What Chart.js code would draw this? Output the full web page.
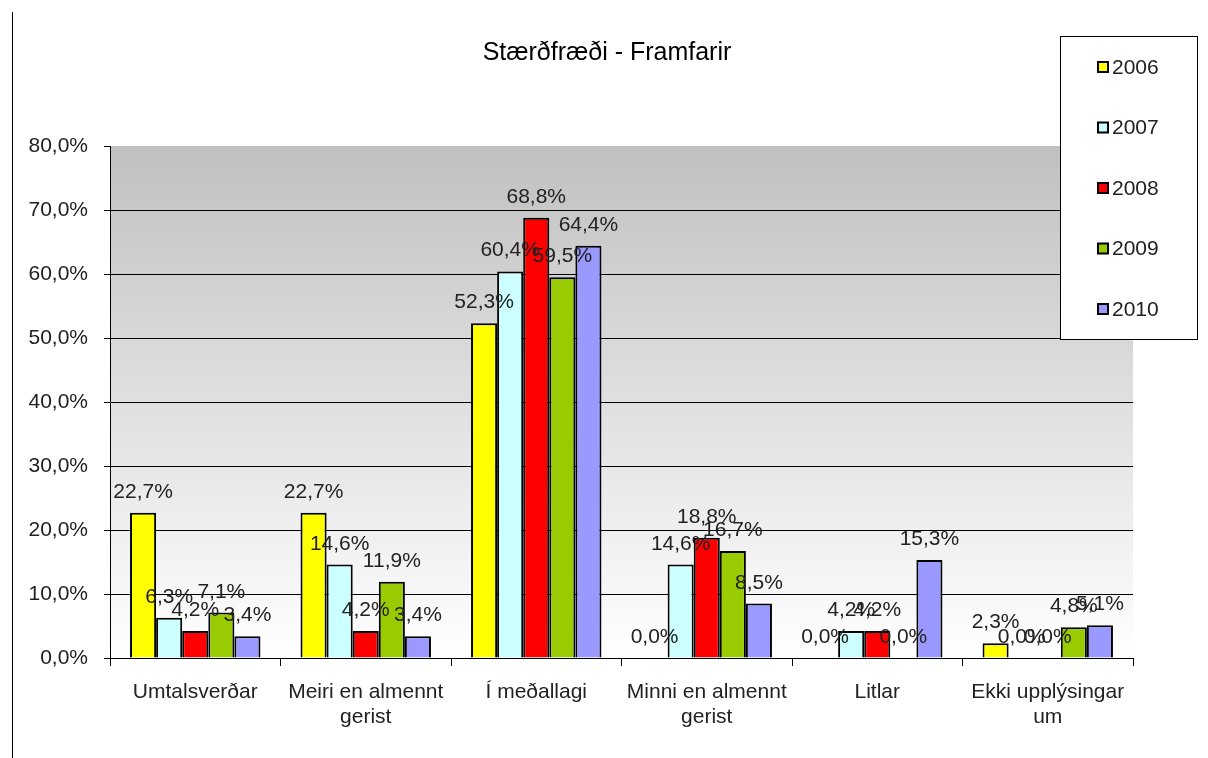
<!DOCTYPE html>
<html>
<head>
<meta charset="utf-8">
<script src="https://cdn.jsdelivr.net/npm/chart.js@4.4.0/dist/chart.umd.min.js"></script>
<style>
  html, body { margin: 0; padding: 0; background: #fff; }
  canvas { display: block; }
</style>
</head>
<body>
<canvas id="chart" width="1208" height="758"></canvas>
<script>
const categories = [
  'Umtalsverðar',
  ['Meiri en almennt', 'gerist'],
  'Í meðallagi',
  ['Minni en almennt', 'gerist'],
  'Litlar',
  ['Ekki upplýsingar', 'um']
]
const years = ['2006', '2007', '2008', '2009', '2010']
const values2006 = [22.7, 22.7, 52.3, 0.0, 0.0, 2.3]
const values2007 = [6.3, 14.6, 60.4, 14.6, 4.2, 0.0]
const values2008 = [4.2, 4.2, 68.8, 18.8, 4.2, 0.0]
const values2009 = [7.1, 11.9, 59.5, 16.7, 0.0, 4.8]
const values2010 = [3.4, 3.4, 64.4, 8.5, 15.3, 5.1]
const colors = ['#ffff00', '#ccffff', '#ff0000', '#99cc00', '#9999ff']
const title = 'Stærðfræði - Framfarir'

const FONT = '"Liberation Sans", Arial, sans-serif'
const pct = v => v.toFixed(1).replace('.', ',') + '%'

const series = [values2006, values2007, values2008, values2009, values2010]

// background gradient, frame line, title, bar labels and legend box
const decor = {
  id: 'decor',
  beforeDraw(chart) {
    const { ctx, chartArea: a } = chart
    const g = ctx.createLinearGradient(0, a.top, 0, a.bottom)
    g.addColorStop(0, '#c0c0c0')
    g.addColorStop(1, '#ffffff')
    ctx.save()
    ctx.fillStyle = g
    ctx.fillRect(a.left, a.top, a.right - a.left, a.bottom - a.top)
    ctx.restore()
  },
  afterDraw(chart) {
    const { ctx } = chart
    ctx.save()
    // left frame line
    ctx.strokeStyle = '#000'
    ctx.lineWidth = 1
    ctx.beginPath()
    ctx.moveTo(12.5, 12)
    ctx.lineTo(12.5, 758)
    ctx.stroke()

    // title
    ctx.fillStyle = '#000'
    ctx.font = '25px ' + FONT
    ctx.textAlign = 'center'
    ctx.textBaseline = 'middle'
    ctx.fillText(title, 607, 53)

    // value labels above bars
    ctx.font = '21px ' + FONT
    ctx.fillStyle = '#222'
    ctx.textBaseline = 'alphabetic'
    chart.data.datasets.forEach((ds, i) => {
      chart.getDatasetMeta(i).data.forEach((bar, j) => {
        ctx.fillText(pct(ds.data[j]), bar.x, bar.y - 15)
      })
    })

    // legend
    ctx.fillStyle = '#fff'
    ctx.fillRect(1060, 36, 137, 303)
    ctx.strokeStyle = '#000'
    ctx.strokeRect(1060.5, 36.5, 137, 303)
    ctx.textAlign = 'left'
    ctx.textBaseline = 'middle'
    chart.data.datasets.forEach((ds, i) => {
      const y = 67 + i * 60.5
      ctx.fillStyle = ds.backgroundColor
      ctx.fillRect(1098, y - 5, 10, 10)
      ctx.lineWidth = 2
      ctx.strokeStyle = '#000'
      ctx.strokeRect(1098, y - 5, 10, 10)
      ctx.fillStyle = '#222'
      ctx.fillText(ds.label, 1112, y + 1)
    })
    ctx.restore()
  }
}

new Chart(document.getElementById('chart'), {
  type: 'bar',
  data: {
    labels: categories,
    datasets: years.map((y, i) => ({
      label: y,
      data: series[i],
      backgroundColor: colors[i],
      borderColor: '#000',
      borderWidth: 2,
      categoryPercentage: 0.765,
      barPercentage: 1
    }))
  },
  options: {
    responsive: false,
    animation: false,
    layout: { padding: { top: 146, right: 75, bottom: 0, left: 0 } },
    scales: {
      x: {
        afterFit: s => { s.height = 100 },
        grid: {
          offset: true,
          drawOnChartArea: false,
          drawTicks: true,
          tickLength: 8,
          color: '#000'
        },
        border: { color: '#000', width: 1 },
        ticks: {
          color: '#222',
          padding: 14,
          maxRotation: 0,
          autoSkip: false,
          font: { family: FONT, size: 21, lineHeight: 1.19 }
        }
      },
      y: {
        min: 0,
        max: 80,
        afterFit: s => { s.width = 110 },
        grid: {
          color: ctx => (ctx.tick && ctx.tick.value === 80 ? 'rgba(0,0,0,0)' : '#000'),
          tickColor: '#000',
          tickLength: 6
        },
        border: { color: '#000', width: 1 },
        ticks: {
          stepSize: 10,
          color: '#222',
          padding: 16,
          callback: v => pct(v),
          font: { family: FONT, size: 21 }
        }
      }
    },
    plugins: {
      legend: { display: false },
      title: { display: false },
      tooltip: { enabled: false }
    }
  },
  plugins: [decor]
})
</script>
</body>
</html>
